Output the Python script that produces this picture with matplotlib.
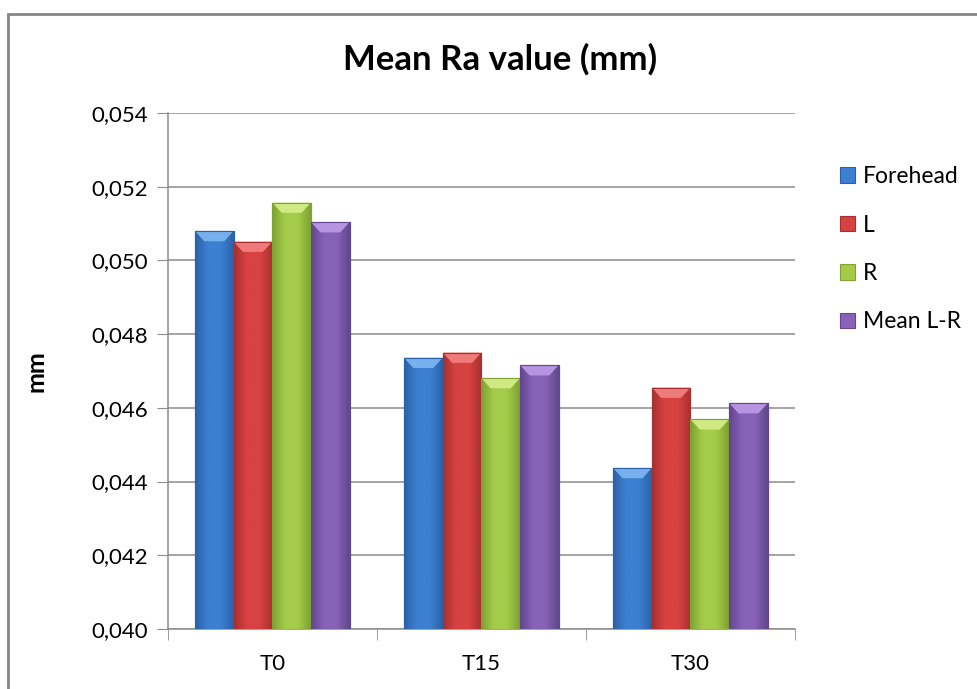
import numpy as np
import matplotlib
matplotlib.use("Agg")
import matplotlib.pyplot as plt
from matplotlib.colors import LinearSegmentedColormap
from matplotlib.patches import Patch, Polygon, Rectangle
from matplotlib.ticker import FuncFormatter, FixedLocator

plt.rcParams['font.family'] = ['Lato', 'DejaVu Sans']

# data
categories = ["T0", "T15", "T30"]
series = ["Forehead", "L", "R", "Mean L-R"]
forehead = [0.05080, 0.04736, 0.04437]
left = [0.05051, 0.04750, 0.04655]
right = [0.05157, 0.04681, 0.04569]
mean_lr = [0.05104, 0.04716, 0.04613]
yticks = [0.040, 0.042, 0.044, 0.046, 0.048, 0.050, 0.052, 0.054]

values = [forehead, left, right, mean_lr]
# dark edge, body, top bevel
colors = [
    ("#2a62a8", "#3d80d2", "#78b0ee"),
    ("#a83030", "#d84242", "#ee7a7a"),
    ("#7fa232", "#a4cc4a", "#cfea82"),
    ("#62468e", "#8762b6", "#b694e2"),
]

fig = plt.figure(figsize=(9.78, 6.89), dpi=100)
ax = fig.add_axes([0.1715, 0.0871, 0.6414, 0.7489])

x = np.arange(len(categories))
w = 0.185
ymin, ymax = 0.040, 0.054

for i, vals in enumerate(values):
    dark, body, top = colors[i]
    bars = ax.bar(x + (i - 1.5) * w, vals, w, color=body, edgecolor=dark,
                  linewidth=0.8, zorder=3)
    cmap = LinearSegmentedColormap.from_list("g%d" % i, [dark, body, body, dark])
    for r in bars:
        x0 = r.get_x()
        x1 = x0 + r.get_width()
        h = r.get_height()
        img = ax.imshow(np.linspace(0, 1, 50)[np.newaxis, :], extent=(x0, x1, ymin, h),
                        aspect='auto', cmap=cmap, zorder=3.5, interpolation='bicubic')
        img.set_clip_path(r)
        bh = 0.00028
        dx = 0.045
        ax.add_patch(Polygon([(x0, h), (x1, h), (x1 - dx, h - bh), (x0 + dx, h - bh)],
                             closed=True, facecolor=top, edgecolor='none', zorder=4))
        ax.add_patch(Rectangle((x0, ymin), r.get_width(), h - ymin, fill=False,
                               edgecolor=dark, linewidth=0.8, zorder=4.5))

ax.set_xlim(-0.5, 2.5)
ax.set_ylim(ymin, ymax)
ax.set_yticks(yticks)
ax.yaxis.set_major_formatter(FuncFormatter(lambda v, p: ("%.3f" % v).replace(".", ",")))
ax.set_xticks(x)
ax.set_xticklabels(categories)
ax.xaxis.set_minor_locator(FixedLocator([-0.5, 0.5, 1.5, 2.5]))
ax.tick_params(axis='x', which='major', length=0, labelsize=16, pad=18)
ax.tick_params(axis='x', which='minor', length=8, color='#8c8c8c')
ax.tick_params(axis='y', length=8, color='#8c8c8c', labelsize=16, pad=6)

ax.grid(axis='y', color='#8c8c8c', linewidth=1.1, zorder=0)
ax.set_axisbelow(True)
for s in ['top', 'right']:
    ax.spines[s].set_visible(False)
for s in ['left', 'bottom']:
    ax.spines[s].set_color('#8c8c8c')
    ax.spines[s].set_linewidth(1.1)

ax.set_ylabel("mm", fontsize=18, fontweight='bold')
ax.yaxis.set_label_coords(-0.191, 0.5)

fig.text(500 / 978, 1 - 59 / 689, "Mean Ra value (mm)", ha='center', va='center',
         fontsize=25, fontweight='bold')

handles = [Patch(facecolor=c[1], edgecolor=c[0], linewidth=0.8) for c in colors]
fig.legend(handles, series, loc='upper left', bbox_to_anchor=(840 / 978, 1 - 166 / 689),
           frameon=False, fontsize=16.5, handlelength=0.65, handleheight=0.65,
           handletextpad=0.35, labelspacing=1.2, borderpad=0, borderaxespad=0)

fig.patches.append(Rectangle((8 / 978, -0.1), 2, 1 - 14 / 689 + 0.1,
                             transform=fig.transFigure, fill=False,
                             edgecolor='#868686', linewidth=2))

fig.savefig("out.png", dpi=100)
